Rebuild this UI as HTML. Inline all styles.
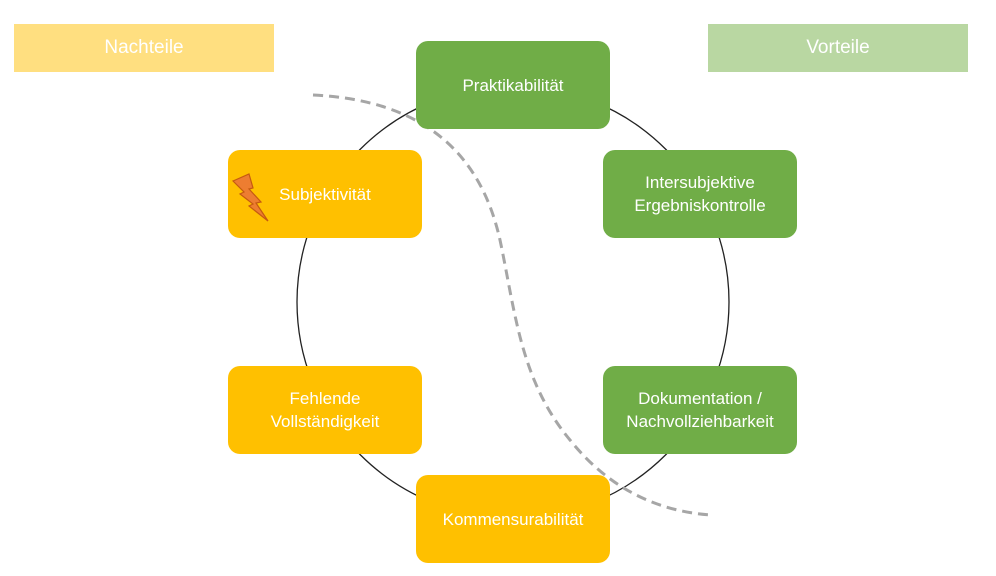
<!DOCTYPE html>
<html><head><meta charset="utf-8"><style>
body{margin:0;width:996px;height:576px;background:#fff;position:relative;overflow:hidden;font-family:"Liberation Sans",sans-serif}
.b{position:absolute;width:194px;height:88px;border-radius:12px;color:#fff;font-size:17px;display:flex;align-items:center;justify-content:center;text-align:center;line-height:23px}
.g{background:#70ad47}.y{background:#ffc000}
.h{position:absolute;top:24px;width:260px;height:48px;color:#fff;font-size:19px;display:flex;align-items:center;justify-content:center}
</style></head><body>
<div class="h" style="left:14px;background:#ffdf80">Nachteile</div>
<div class="h" style="left:708px;background:#b9d7a2">Vorteile</div>
<svg style="position:absolute;left:0;top:0" width="996" height="576">
<circle cx="513" cy="302" r="216" fill="none" stroke="#222" stroke-width="1.3"/>
<path d="M313,95 C420,100 480,150 500,240 C515,310 520,380 570,440 C610,490 660,512 712,515" fill="none" stroke="#a6a6a6" stroke-width="3" stroke-dasharray="10,6"/>
</svg>
<div class="b g" style="left:416px;top:41px">Praktikabilität</div>
<div class="b g" style="left:603px;top:150px">Intersubjektive<br>Ergebniskontrolle</div>
<div class="b g" style="left:603px;top:366px">Dokumentation /<br>Nachvollziehbarkeit</div>
<div class="b y" style="left:416px;top:475px">Kommensurabilität</div>
<div class="b y" style="left:228px;top:366px">Fehlende<br>Vollständigkeit</div>
<div class="b y" style="left:228px;top:150px">Subjektivität</div>
<svg style="position:absolute;left:0;top:0" width="996" height="576">
<polygon points="233,181 249,174 253,188 249,189 261,202 256,203 268,221 249,206 253,204 240,194 244,192" fill="#ed7d31" stroke="#c55a11" stroke-width="1.2"/>
</svg>
</body></html>
